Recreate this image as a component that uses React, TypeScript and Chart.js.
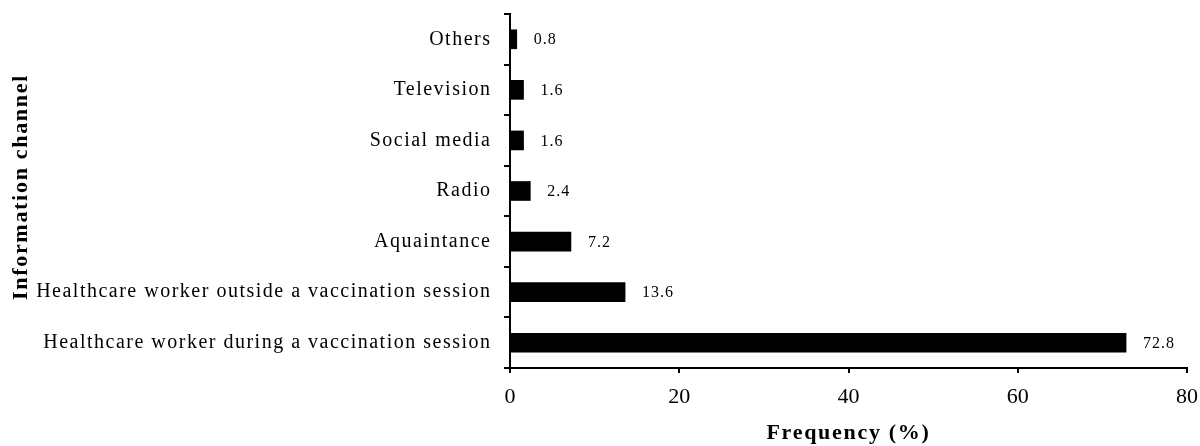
import React, { useEffect, useRef } from "react";
import { Chart, registerables } from "chart.js";

Chart.register(...registerables);

const categories = [
  "Others",
  "Television",
  "Social media",
  "Radio",
  "Aquaintance",
  "Healthcare worker outside a vaccination session",
  "Healthcare worker during a vaccination session",
];
const frequencies = [0.8, 1.6, 1.6, 2.4, 7.2, 13.6, 72.8];
const xTicks = [0, 20, 40, 60, 80];
const xTitle = "Frequency (%)";
const yTitle = "Information channel";

const serif = "'Liberation Serif', 'DejaVu Serif', serif";

const textPlugin = {
  id: "textPlugin",
  afterDraw(chart: any) {
    const ctx = chart.ctx;
    const area = chart.chartArea;
    const yScale = chart.scales.y;
    ctx.save();
    ctx.fillStyle = "#000";
    // category labels
    ctx.font = `20px ${serif}`;
    (ctx as any).letterSpacing = "1.5px";
    ctx.textAlign = "right";
    ctx.textBaseline = "middle";
    chart.data.labels.forEach((lab: string, i: number) => {
      const y = yScale.getPixelForTick(i);
      ctx.fillText(lab, area.left - 20 + 1.5, y);
    });
    // value labels
    const meta = chart.getDatasetMeta(0);
    ctx.font = `16px ${serif}`;
    (ctx as any).letterSpacing = "1px";
    ctx.textAlign = "left";
    meta.data.forEach((el: any, i: number) => {
      const v = chart.data.datasets[0].data[i];
      ctx.fillText(v.toFixed(1), el.x + 17, el.y + 1);
    });
    // axis titles
    ctx.font = `bold 22px ${serif}`;
    (ctx as any).letterSpacing = "1.7px";
    ctx.textAlign = "center";
    ctx.fillText(xTitle, (area.left + area.right) / 2, 433);
    ctx.save();
    ctx.translate(21, (area.top + area.bottom) / 2 - 4);
    ctx.rotate(-Math.PI / 2);
    ctx.fillText(yTitle, 0, 0);
    ctx.restore();
    ctx.restore();
  },
};

const whiteBg = {
  id: "whiteBg",
  beforeDraw(chart: any) {
    const ctx = chart.ctx;
    ctx.save();
    ctx.fillStyle = "#fff";
    ctx.fillRect(0, 0, chart.width, chart.height);
    ctx.restore();
  },
};

export default function App() {
  const ref = useRef<HTMLCanvasElement | null>(null);
  useEffect(() => {
    if (!ref.current) return;
    const chart = new Chart(ref.current, {
      type: "bar",
      data: {
        labels: categories,
        datasets: [
          {
            data: frequencies,
            backgroundColor: "#000",
            borderWidth: 0,
            barThickness: 19,
          },
        ],
      },
      plugins: [whiteBg, textPlugin],
      options: {
        indexAxis: "y",
        animation: false,
        responsive: false,
        maintainAspectRatio: false,
        layout: { padding: { top: 14, right: 13, left: 0, bottom: 0 } },
        plugins: { legend: { display: false }, tooltip: { enabled: false } },
        scales: {
          x: {
            type: "linear",
            min: 0,
            max: 80,
            afterBuildTicks: (scale: any) => {
              scale.ticks = xTicks.map((v) => ({ value: v }));
            },
            afterFit: (scale: any) => {
              scale.height = 78;
              scale.paddingRight = 0;
              scale.paddingLeft = 0;
            },
            border: { display: true, color: "#000", width: 2 },
            grid: {
              display: true,
              drawOnChartArea: false,
              drawTicks: true,
              tickLength: 5,
              color: "#000",
              lineWidth: 2,
            },
            ticks: {
              color: "#000",
              font: { family: serif, size: 22 },
              padding: 11,
              maxRotation: 0,
            },
          },
          y: {
            type: "category",
            offset: true,
            afterFit: (scale: any) => {
              scale.width = 510;
            },
            border: { display: true, color: "#000", width: 2 },
            grid: {
              display: true,
              offset: true,
              drawOnChartArea: false,
              drawTicks: true,
              tickLength: 6,
              color: "#000",
              lineWidth: 2,
            },
            ticks: { display: false, autoSkip: false },
          },
        },
      },
    });
    return () => chart.destroy();
  }, []);
  return (
    <div style={{ position: "fixed", left: 0, top: 0, width: 1200, height: 446, background: "#fff" }}>
      <canvas ref={ref} width={1200} height={446} style={{ display: "block" }} />
    </div>
  );
}
